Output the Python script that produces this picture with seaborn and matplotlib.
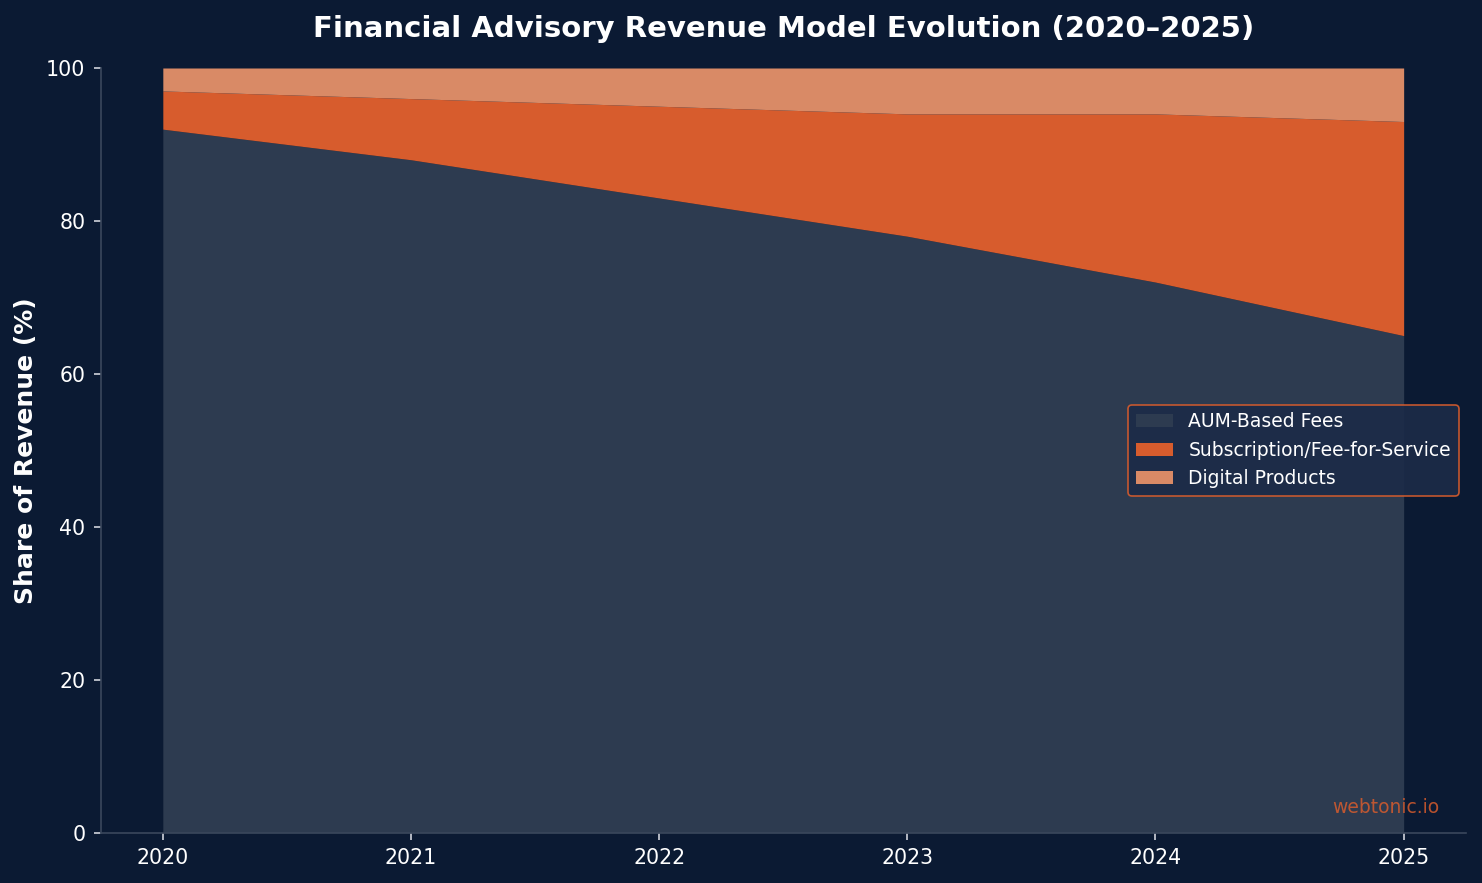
import numpy as np
import pandas as pd
import seaborn as sns
import matplotlib
matplotlib.use("Agg")
import matplotlib.pyplot as plt

# dados (em % da receita)
anos = [2020, 2021, 2022, 2023, 2024, 2025]
aum = [92, 88, 83, 78, 72, 65]
assinatura = [5, 8, 12, 16, 22, 28]
digital = [3, 4, 5, 6, 6, 7]
rotulos = ["AUM-Based Fees", "Subscription/Fee-for-Service", "Digital Products"]

bg = "#0b1a33"
cores = ["#2d3b50", "#d75c2d", "#d98a66"]

sns.set_theme(style="dark")
plt.rcParams["font.family"] = ["DejaVu Sans"]

fig, ax = plt.subplots(figsize=(14.82, 8.83), dpi=100)
fig.patch.set_facecolor(bg)
ax.set_facecolor(bg)
fig.subplots_adjust(left=0.068, right=0.989, top=0.923, bottom=0.057)

ax.stackplot(anos, aum, assinatura, digital, labels=rotulos, colors=cores, linewidth=0)

ax.set_ylim(0, 100)
ax.set_xticks(anos)
ax.set_yticks([0, 20, 40, 60, 80, 100])
ax.tick_params(colors="#d0d4dc", labelcolor="white", labelsize=14.8, length=5, width=1.2,
               left=True, bottom=True, pad=6)
for s in ["top", "right"]:
    ax.spines[s].set_visible(False)
for s in ["left", "bottom"]:
    ax.spines[s].set_visible(True)
    ax.spines[s].set_color("#3a475c")
    ax.spines[s].set_linewidth(1.2)
ax.grid(False)

ax.set_title("Financial Advisory Revenue Model Evolution (2020\u20132025)", color="white",
             fontsize=21, fontweight="bold", pad=22)
ax.set_ylabel("Share of Revenue (%)", color="white", fontsize=18, fontweight="bold", labelpad=6)

leg = ax.legend(loc="center right", fontsize=13.5, facecolor="#1c2b48", edgecolor="#d75c2d",
                framealpha=0.9, labelcolor="white", bbox_to_anchor=(1.0016, 0.5))
leg.get_frame().set_linewidth(1.2)
for h in leg.legend_handles:
    h.set_edgecolor("none")

ax.text(0.981, 0.02, "webtonic.io", transform=ax.transAxes, ha="right", va="bottom",
        color="#d75c2d", alpha=0.85, fontsize=13.5)

fig.savefig("out.png", dpi=100, facecolor=bg)
